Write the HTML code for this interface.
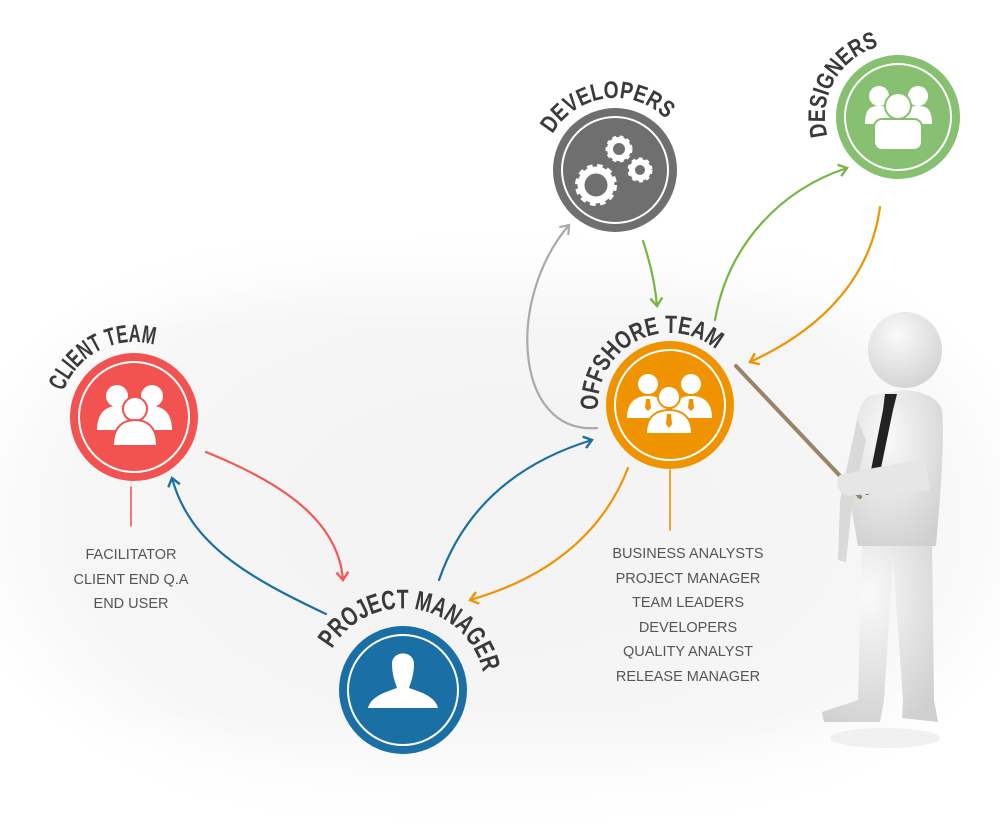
<!DOCTYPE html>
<html><head><meta charset="utf-8"><style>
html,body{margin:0;padding:0;background:#fff}
svg{display:block}
.lbl{font-family:"Liberation Sans",sans-serif;font-weight:bold;fill:#3a3a3a}
.lst{font-family:"Liberation Sans",sans-serif;font-size:14.5px;fill:#555;text-anchor:middle}
</style></head><body>
<svg width="1000" height="831" viewBox="0 0 1000 831" xmlns="http://www.w3.org/2000/svg">
<defs>
<radialGradient id="bg" cx="500" cy="520" r="560" gradientUnits="userSpaceOnUse" gradientTransform="translate(0,520) scale(1,0.6) translate(0,-520)">
<stop offset="0" stop-color="#f3f3f3"/><stop offset="0.75" stop-color="#f6f6f6"/><stop offset="1" stop-color="#fff"/></radialGradient>
<linearGradient id="top" x1="0" y1="0" x2="0" y2="1"><stop offset="0" stop-color="#fff"/><stop offset="0.28" stop-color="#fff"/><stop offset="0.4" stop-color="#fff" stop-opacity="0"/></linearGradient>
<linearGradient id="bot" x1="0" y1="0" x2="0" y2="1"><stop offset="0.85" stop-color="#fff" stop-opacity="0"/><stop offset="1" stop-color="#fff"/></linearGradient>
<radialGradient id="body" cx="0.4" cy="0.3" r="0.8"><stop offset="0" stop-color="#fafafa"/><stop offset="1" stop-color="#cfcfcf"/></radialGradient>
<marker id="aR" markerWidth="14" markerHeight="14" refX="10" refY="7" orient="auto" markerUnits="userSpaceOnUse"><path d="M2,1 L10,7 L2,13" fill="none" stroke="#f05a55" stroke-width="2.4"/></marker>
<marker id="aB" markerWidth="14" markerHeight="14" refX="10" refY="7" orient="auto" markerUnits="userSpaceOnUse"><path d="M2,1 L10,7 L2,13" fill="none" stroke="#1c6fa3" stroke-width="2.4"/></marker>
<marker id="aO" markerWidth="14" markerHeight="14" refX="10" refY="7" orient="auto" markerUnits="userSpaceOnUse"><path d="M2,1 L10,7 L2,13" fill="none" stroke="#f09300" stroke-width="2.4"/></marker>
<marker id="aG" markerWidth="14" markerHeight="14" refX="10" refY="7" orient="auto" markerUnits="userSpaceOnUse"><path d="M2,1 L10,7 L2,13" fill="none" stroke="#74b843" stroke-width="2.4"/></marker>
<marker id="aY" markerWidth="14" markerHeight="14" refX="10" refY="7" orient="auto" markerUnits="userSpaceOnUse"><path d="M2,1 L10,7 L2,13" fill="none" stroke="#aaa" stroke-width="2.2"/></marker>
<path id="tC" d="M63.5,391.3 A75,75 0 0 1 165.7,349"/>
<path id="tP" d="M332,649 A82,82 0 0 1 484,678.6"/>
<path id="tO" d="M598.2,410 A72,72 0 0 1 720.9,354"/>
<path id="tD" d="M552.6,134 A72,72 0 0 1 670.2,123.7"/>
<path id="tS" d="M827.5,135.9 A73,73 0 0 1 885.3,45.1"/>
</defs>
<rect width="1000" height="831" fill="url(#bg)"/>
<rect width="1000" height="831" fill="url(#top)"/>
<rect width="1000" height="831" fill="url(#bot)"/>

<g fill="none" stroke-width="2.2" stroke-linecap="round">
<path d="M206,452 C270,478 338,515 343,580" stroke="#f05a55" marker-end="url(#aR)"/>
<path d="M326,614 C250,578 190,545 172,478" stroke="#1c6fa3" marker-end="url(#aB)"/>
<path d="M439,580 C465,505 520,462 592,440" stroke="#1c6fa3" marker-end="url(#aB)"/>
<path d="M628,468 C600,540 540,580 470,600" stroke="#f09300" marker-end="url(#aO)"/>
<path d="M597,428 C515,435 505,300 569,225" stroke="#aaa" marker-end="url(#aY)"/>
<path d="M643,241 C650,262 655,282 657,306" stroke="#74b843" marker-end="url(#aG)"/>
<path d="M715,320 C728,245 780,190 847,168" stroke="#74b843" marker-end="url(#aG)"/>
<path d="M880,207 C870,280 820,330 750,362" stroke="#f09300" marker-end="url(#aO)"/>
<line x1="131" y1="487" x2="131" y2="526" stroke="#f05a55" stroke-width="1.6"/>
<line x1="670" y1="470" x2="670" y2="530" stroke="#f09300" stroke-width="1.6"/>
</g>

<g stroke="#fff" stroke-width="2">
<circle cx="134" cy="417" r="64" fill="#f25350" stroke="none"/><circle cx="134" cy="417" r="55" fill="none"/>
<circle cx="403" cy="690" r="64" fill="#1a70a5" stroke="none"/><circle cx="403" cy="690" r="55" fill="none"/>
<circle cx="670" cy="405" r="64" fill="#f09300" stroke="none"/><circle cx="670" cy="405" r="55" fill="none"/>
<circle cx="615" cy="170" r="62" fill="#6f6f6f" stroke="none"/><circle cx="615" cy="170" r="53" fill="none"/>
<circle cx="898" cy="117" r="62" fill="#86c070" stroke="none"/><circle cx="898" cy="117" r="53" fill="none"/>
</g>

<g fill="#fff">
<circle cx="117" cy="396" r="11"/><circle cx="152" cy="396" r="11"/>
<path d="M97,430 C97,412 107,406 117,406 C127,406 135,412 135,430Z"/>
<path d="M133,430 C133,412 142,406 152,406 C162,406 172,412 172,430Z"/>
<circle cx="135" cy="409" r="12" stroke="#f25350" stroke-width="2"/>
<path d="M113,446 C113,426 124,420 135,420 C146,420 157,426 157,446Z" stroke="#f25350" stroke-width="2"/>
<path d="M392,664 C392,650 414,650 414,664 C414,676 410,684 409,688 C420,692 435,696 438,708 L368,708 C371,696 386,692 397,688 C396,684 392,676 392,664Z"/>
<circle cx="648" cy="384" r="10"/><circle cx="691" cy="384" r="10"/>
<path d="M627,418 C627,400 638,396 648,396 C658,396 668,400 668,418Z"/>
<path d="M671,418 C671,400 682,396 691,396 C701,396 712,400 712,418Z"/>
<circle cx="669" cy="397" r="11" stroke="#f09300" stroke-width="2"/>
<path d="M646,434 C646,416 657,410 669,410 C681,410 692,416 692,434Z" stroke="#f09300" stroke-width="2"/>
<path d="M667,414 L671,414 L672,424 L669,428 L666,424Z" fill="#f09300"/>
<path d="M646,399 L650,399 L651,408 L648,411 L645,408Z" fill="#f09300"/>
<path d="M689,399 L693,399 L694,408 L691,411 L688,408Z" fill="#f09300"/>
<circle cx="879" cy="96" r="10"/><circle cx="918" cy="96" r="10"/>
<path d="M865,124 C865,108 871,106 879,106 C887,106 893,108 893,124Z"/>
<path d="M904,124 C904,108 910,106 918,106 C926,106 932,108 932,124Z"/>
<circle cx="898" cy="106" r="13" stroke="#86c070" stroke-width="2"/>
<rect x="874" y="119" width="48" height="31" rx="8" stroke="#86c070" stroke-width="2"/>
</g>
<g fill="none" stroke="#fff">
<circle cx="596" cy="185" r="17" stroke-width="8" stroke-dasharray="5 4"/>
<circle cx="596" cy="185" r="15" stroke-width="7"/>
<circle cx="619" cy="149" r="9" stroke-width="6"/>
<circle cx="619" cy="149" r="11" stroke-width="5" stroke-dasharray="3.5 3"/>
<circle cx="640" cy="170" r="8" stroke-width="6"/>
<circle cx="640" cy="170" r="10" stroke-width="5" stroke-dasharray="3.5 3"/>
</g>

<text class="lbl" font-size="25"><textPath href="#tC" textLength="112" lengthAdjust="spacingAndGlyphs">CLIENT TEAM</textPath></text>
<text class="lbl" font-size="27"><textPath href="#tP" textLength="196" lengthAdjust="spacingAndGlyphs">PROJECT MANAGER</textPath></text>
<text class="lbl" font-size="25"><textPath href="#tO" textLength="168" lengthAdjust="spacingAndGlyphs">OFFSHORE TEAM</textPath></text>
<text class="lbl" font-size="24"><textPath href="#tD" textLength="132" lengthAdjust="spacingAndGlyphs">DEVELOPERS</textPath></text>
<text class="lbl" font-size="24"><textPath href="#tS" textLength="114" lengthAdjust="spacingAndGlyphs">DESIGNERS</textPath></text>

<text class="lst" x="131" y="559">FACILITATOR</text>
<text class="lst" x="131" y="584">CLIENT END Q.A</text>
<text class="lst" x="131" y="608">END USER</text>
<text class="lst" x="688" y="558">BUSINESS ANALYSTS</text>
<text class="lst" x="688" y="583">PROJECT MANAGER</text>
<text class="lst" x="688" y="607">TEAM LEADERS</text>
<text class="lst" x="688" y="632">DEVELOPERS</text>
<text class="lst" x="688" y="656">QUALITY ANALYST</text>
<text class="lst" x="688" y="681">RELEASE MANAGER</text>

<g>
<ellipse cx="885" cy="738" rx="55" ry="10" fill="#e8e8e8" opacity="0.6"/>
<path d="M862,540 L858,700 L822,712 L824,722 L880,722 L884,700 L893,560 L903,700 L902,718 L938,722 L934,700 L932,540Z" fill="url(#body)"/>
<path d="M872,395 C860,398 855,420 853,450 L850,500 L858,546 L936,546 C940,500 945,440 942,410 C938,398 925,392 905,390Z" fill="url(#body)"/>
<path d="M885,394 L897,394 L893,410 L876,492 L866,495 L883,410Z" fill="#222"/>
<path d="M857,420 L840,500 L838,560 L846,562 L852,505 L866,440Z" fill="#d9d9d9"/>
<ellipse cx="905" cy="350" rx="37" ry="38" fill="url(#body)"/>
<line x1="736" y1="366" x2="860" y2="497" stroke="#9a8468" stroke-width="4" stroke-linecap="round"/>
<path d="M840,475 C860,470 905,462 925,460 L930,490 C905,492 870,493 850,496 C838,496 834,480 840,475Z" fill="#e6e6e6"/>
</g>
</svg>
</body></html>
